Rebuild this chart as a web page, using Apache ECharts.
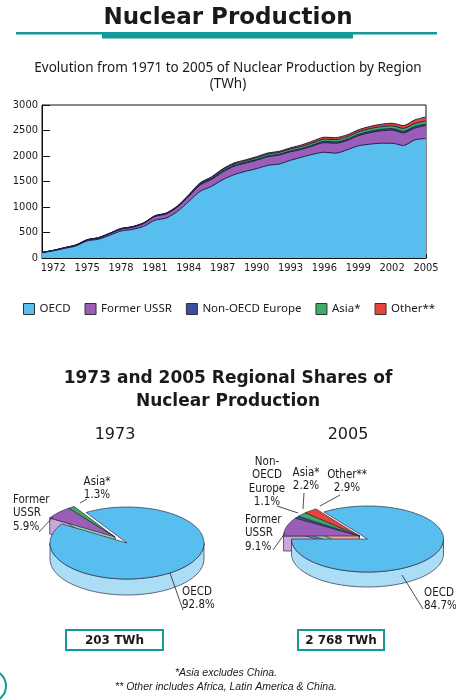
<!DOCTYPE html>
<html><head><meta charset="utf-8">
<script src="https://cdn.jsdelivr.net/npm/echarts@6/dist/echarts.min.js"></script>
<style>html,body{margin:0;padding:0;background:#fff}#c{width:456px;height:700px}</style>
</head><body><div id="c"></div>
<script>
// ---------- DATA ----------
const years = [1971,1972,1973,1974,1975,1976,1977,1978,1979,1980,1981,1982,1983,1984,1985,1986,1987,1988,1989,1990,1991,1992,1993,1994,1995,1996,1997,1998,1999,2000,2001,2002,2003,2004,2005];
const xLabelYears = [1972,1975,1978,1981,1984,1987,1990,1993,1996,1999,2002,2005];
const oecd = [105,142,188,236,335,368,445,530,560,620,740,784,915,1111,1307,1405,1536,1634,1699,1752,1817,1843,1915,1977,2035,2074,2055,2120,2198,2231,2250,2250,2205,2316,2344];
const formerUSSR = [5,6,12,15,18,22,32,37,41,56,74,80,85,98,125,135,150,165,160,165,168,177,168,153,164,188,194,181,199,225,243,257,248,232,252];
const nonOECDEurope = [0,0,0,1,3,5,5,6,6,6,8,8,10,12,13,14,16,16,15,14,14,14,16,18,20,25,26,27,25,26,28,30,30,31,30];
const asia = [1,2,3,3,2,3,3,4,5,5,5,6,8,12,15,20,30,30,30,36,38,38,40,40,42,43,46,48,50,53,53,55,58,58,61];
const other = [0,0,0,1,2,2,2,3,3,3,3,4,4,9,15,16,17,18,19,20,22,20,21,30,35,38,40,38,40,42,48,50,55,70,80];
const seriesNames = ['OECD','Former USSR','Non-OECD Europe','Asia*','Other**'];
const pieLabelNames = ['OECD','Former\nUSSR','Non-\nOECD\nEurope','Asia*','Other**'];
const share1973 = [92.8, 5.9, 0, 1.3, 0];
const share2005 = [84.7, 9.1, 1.1, 2.2, 2.9];
const totals = ['203 TWh', '2 768 TWh'];
const pieYears = ['1973', '2005'];

// ---------- STYLE ----------
const topColors = ['#58BEF0','#9A5DB8','#3C4EA2','#3DAE63','#E8443B'];
const sideColors = ['#ABDDF6','#C9A7DB','#8E98CA','#97D4AA','#F3A29C'];
const teal = '#13999A';
const narrow = '"Liberation Sans Narrow","DejaVu Sans Condensed",sans-serif';

function makePie(shares, o) {
  const order = [4,3,2,1,0];
  let nonMain = 0; for (let i = 1; i < shares.length; i++) nonMain += shares[i];
  let a = o.endAngle - nonMain * 3.6;
  const angles = {};
  order.forEach(i => { const span = shares[i] * 3.6; angles[i] = [a, a + span]; a += span; });
  return {
    type: 'custom', coordinateSystem: 'none', silent: true, animation: false,
    data: shares.map((v, i) => ({ name: 'pie' + seriesNames[i], value: v })),
    renderItem: function (params, api) {
      const i = params.dataIndex; const v = api.value(0);
      if (!v) return null;
      const a0 = angles[i][0], a1 = angles[i][1];
      const main = i === 0;
      const cx = o.cx + (main ? 0 : o.ex), cy = o.cy + (main ? 0 : o.ey);
      const pt = (t, d) => { const r = t * Math.PI / 180; return [cx + o.rx * Math.cos(r), cy - o.ry * Math.sin(r) + (d || 0)]; };
      const stroke = { stroke: '#2b2b40', lineWidth: 0.7 };
      const zb = main ? 3 : 1, zt = main ? 4 : 2;
      const children = [];
      if (!main) {
        [[a0, a0 - 90], [a1, a1 + 90]].forEach(([t, n]) => {
          if (Math.sin(n * Math.PI / 180) < -0.01) {
            const e = pt(t, 0);
            children.push({ type: 'polygon', z2: zb, shape: { points: [[cx, cy], e, [e[0], e[1] + o.depth], [cx, cy + o.depth]] }, style: Object.assign({ fill: sideColors[i] }, stroke) });
          }
        });
      }
      for (let k = -1; k <= 2; k++) {
        const s = Math.max(a0, 180 + 360 * k), e = Math.min(a1, 360 + 360 * k);
        if (e > s) {
          const pts = []; const n = Math.max(2, Math.ceil((e - s) / 2));
          for (let j = 0; j <= n; j++) pts.push(pt(s + (e - s) * j / n, 0));
          for (let j = n; j >= 0; j--) pts.push(pt(s + (e - s) * j / n, o.depth));
          children.push({ type: 'polygon', z2: zb, shape: { points: pts }, style: Object.assign({ fill: sideColors[i] }, stroke) });
        }
      }
      const pts = [[cx, cy]]; const n = Math.max(2, Math.ceil((a1 - a0) / 2));
      for (let j = 0; j <= n; j++) pts.push(pt(a0 + (a1 - a0) * j / n, 0));
      children.push({ type: 'polygon', z2: zt, shape: { points: pts }, style: Object.assign({ fill: topColors[i] }, stroke) });
      return { type: 'group', children: children };
    }
  };
}

const stackData = [oecd, formerUSSR, nonOECDEurope, asia, other];
const areaSeries = stackData.map((d, i) => ({
  name: seriesNames[i], type: 'line', stack: 'total', data: d,
  symbol: 'none', smooth: 0.25, animation: false,
  color: topColors[i],
  itemStyle: { color: topColors[i] },
  lineStyle: { color: '#1d1d45', width: 1 },
  areaStyle: { color: topColors[i], opacity: 1 }
}));

function lbl(x, y, text, align) {
  return { type: 'text', x: x, y: y, z: 50, style: { text: text, font: '11.5px ' + narrow, fill: '#1a1a1a', textAlign: align || 'left', textVerticalAlign: 'top', lineHeight: 13.5 } };
}
function lead(p1, p2) {
  return { type: 'polyline', z: 50, shape: { points: [p1, p2] }, style: { stroke: '#222', lineWidth: 0.8 } };
}
const pct = v => v.toFixed(1) + '%';

const graphics = [
  { type: 'rect', shape: { x: 16, y: 32, width: 421, height: 2.5 }, style: { fill: teal } },
  { type: 'rect', shape: { x: 102, y: 32, width: 251, height: 6.5 }, style: { fill: teal } },
  { type: 'text', x: 115, y: 435, style: { text: pieYears[0], font: '16px "DejaVu Sans", sans-serif', fill: '#1a1a1a', textAlign: 'center', textVerticalAlign: 'middle' } },
  { type: 'text', x: 348, y: 435, style: { text: pieYears[1], font: '16px "DejaVu Sans", sans-serif', fill: '#1a1a1a', textAlign: 'center', textVerticalAlign: 'middle' } },
  lbl(97, 475, pieLabelNames[3] + '\n' + pct(share1973[3]), 'center'),
  lead([87, 499], [80, 503]),
  lbl(13, 493, pieLabelNames[1] + '\n' + pct(share1973[1])),
  lead([39, 532], [53, 517]),
  lbl(182, 585, pieLabelNames[0] + '\n' + pct(share1973[0])),
  lead([170, 573], [183, 610]),
  lbl(267, 455, pieLabelNames[2] + '\n' + pct(share2005[2]), 'center'),
  lead([277, 506], [298, 513]),
  lbl(306, 466, pieLabelNames[3] + '\n' + pct(share2005[3]), 'center'),
  lead([304, 493], [303, 509]),
  lbl(347, 468, pieLabelNames[4] + '\n' + pct(share2005[4]), 'center'),
  lead([340, 495], [320, 506]),
  lbl(245, 513, pieLabelNames[1] + '\n' + pct(share2005[1])),
  lead([273, 550], [285, 533]),
  lbl(424, 586, pieLabelNames[0] + '\n' + pct(share2005[0])),
  lead([402, 575], [423, 609]),
  { type: 'rect', shape: { x: 66, y: 630, width: 97, height: 20 }, style: { fill: '#fff', stroke: teal, lineWidth: 2 } },
  { type: 'text', x: 114.5, y: 640.5, style: { text: totals[0], font: 'bold 12px "DejaVu Sans", sans-serif', fill: '#1a1a1a', textAlign: 'center', textVerticalAlign: 'middle' } },
  { type: 'rect', shape: { x: 298, y: 630, width: 86, height: 20 }, style: { fill: '#fff', stroke: teal, lineWidth: 2 } },
  { type: 'text', x: 341, y: 640.5, style: { text: totals[1], font: 'bold 12px "DejaVu Sans", sans-serif', fill: '#1a1a1a', textAlign: 'center', textVerticalAlign: 'middle' } },
  { type: 'text', x: 226, y: 673, style: { text: '*Asia excludes China.', font: 'italic 10.5px "Liberation Sans", sans-serif', fill: '#1a1a1a', textAlign: 'center', textVerticalAlign: 'middle' } },
  { type: 'text', x: 226, y: 687, style: { text: '** Other includes Africa, Latin America & China.', font: 'italic 10.5px "Liberation Sans", sans-serif', fill: '#1a1a1a', textAlign: 'center', textVerticalAlign: 'middle' } },
  { type: 'circle', shape: { cx: -10, cy: 686, r: 16 }, style: { fill: 'none', stroke: teal, lineWidth: 2 } }
];

const option = {
  backgroundColor: '#fff',
  animation: false,
  title: [
    { text: 'Nuclear Production', left: 'center', top: 2, textStyle: { fontSize: 23, fontWeight: 'bold', fontFamily: '"DejaVu Sans", sans-serif', color: '#1a1a1a' } },
    { text: 'Evolution from 1971 to 2005 of Nuclear Production by Region\n(TWh)', left: 'center', top: 55, textStyle: { fontSize: 13.5, fontWeight: 'normal', fontFamily: '"Noto Sans", sans-serif', color: '#1a1a1a', lineHeight: 16 } },
    { text: '1973 and 2005 Regional Shares of\nNuclear Production', left: 'center', top: 362, textStyle: { fontSize: 17, fontWeight: 'bold', fontFamily: '"DejaVu Sans", sans-serif', color: '#1a1a1a', lineHeight: 23 } }
  ],
  legend: {
    data: seriesNames, left: 18, top: 298, icon: 'rect', itemWidth: 11, itemHeight: 11, itemGap: 14,
    itemStyle: { borderColor: '#333', borderWidth: 1 },
    textStyle: { fontSize: 11.5, fontFamily: '"Noto Sans", sans-serif', color: '#1a1a1a' },
    selectedMode: false
  },
  grid: { left: 42, right: 30, top: 105, height: 153, show: true, borderColor: '#111', borderWidth: 1, backgroundColor: 'transparent' },
  xAxis: {
    type: 'category', data: years, boundaryGap: false,
    axisLine: { lineStyle: { color: '#111', width: 1 } },
    axisTick: { inside: true, length: 4, interval: 0, lineStyle: { color: '#111' } },
    axisLabel: { interval: (idx, val) => xLabelYears.indexOf(+val) >= 0, fontSize: 11, fontFamily: narrow, color: '#1a1a1a', margin: 5 }
  },
  yAxis: {
    type: 'value', min: 0, max: 3000, interval: 500,
    axisLine: { show: true, lineStyle: { color: '#111', width: 1 } },
    axisTick: { show: true, inside: true, length: 8, lineStyle: { color: '#111' } },
    splitLine: { show: false },
    axisLabel: { formatter: v => String(v), fontSize: 11, fontFamily: narrow, color: '#1a1a1a', margin: 4 }
  },
  series: areaSeries.concat([
    makePie(share1973, { cx: 127, cy: 543, rx: 77, ry: 36, depth: 16, endAngle: 148, ex: -12, ey: -6 }),
    makePie(share2005, { cx: 367.5, cy: 539, rx: 76, ry: 33, depth: 15, endAngle: 180, ex: -8, ey: -3 })
  ]),
  graphic: graphics
};
const chart = echarts.init(document.getElementById('c'), null, { renderer: 'canvas' });
chart.setOption(option);
</script></body></html>
